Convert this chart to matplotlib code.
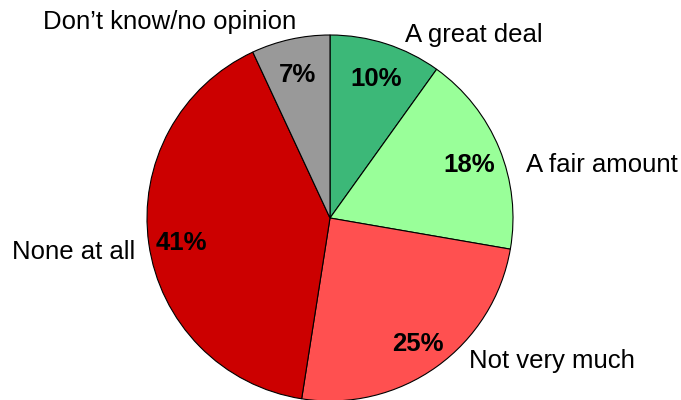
import matplotlib.pyplot as plt

plt.rcParams['font.family'] = ['Liberation Sans', 'DejaVu Sans']

labels = ['A great deal', 'A fair amount', 'Not very much', 'None at all', 'Don\u2019t know/no opinion']
values = [10, 18, 25, 41, 7]
colors = ['#3CB878', '#99FF99', '#FF5050', '#CC0000', '#999999']

# label placement relative to pie centre, in radius units
label_pos = [(0.412, 1.0, 'left'), (1.071, 0.29, 'left'), (0.758, -0.78, 'left'),
             (-1.066, -0.185, 'right'), (-0.879, 1.07, 'center')]

fig = plt.figure(figsize=(6.81, 4.0), dpi=100)
ax = fig.add_axes([0, 0, 1, 1])

cx, cy, r = 330, 182, 183
wedges, texts, autotexts = ax.pie(values, colors=colors, startangle=90, counterclock=False,
                                  center=(cx, cy), radius=r, autopct='%d%%', pctdistance=0.82,
                                  wedgeprops=dict(edgecolor='black', linewidth=0.8),
                                  textprops=dict(fontsize=18.5, fontweight='bold', color='black'),
                                  frame=True)
ax.set_xlim(0, 681)
ax.set_ylim(0, 400)
ax.set_aspect('equal')
ax.axis('off')

for t, v in zip(autotexts, values):
    t.set_text(f'{v}%')
    x, y = t.get_position()
    t.set_position((x, y - 4))

for lab, (dx, dy, ha) in zip(labels, label_pos):
    ax.text(cx + dx * r, cy + dy * r, lab, ha=ha, va='center', fontsize=18.5)

fig.savefig('out.png', dpi=100)
